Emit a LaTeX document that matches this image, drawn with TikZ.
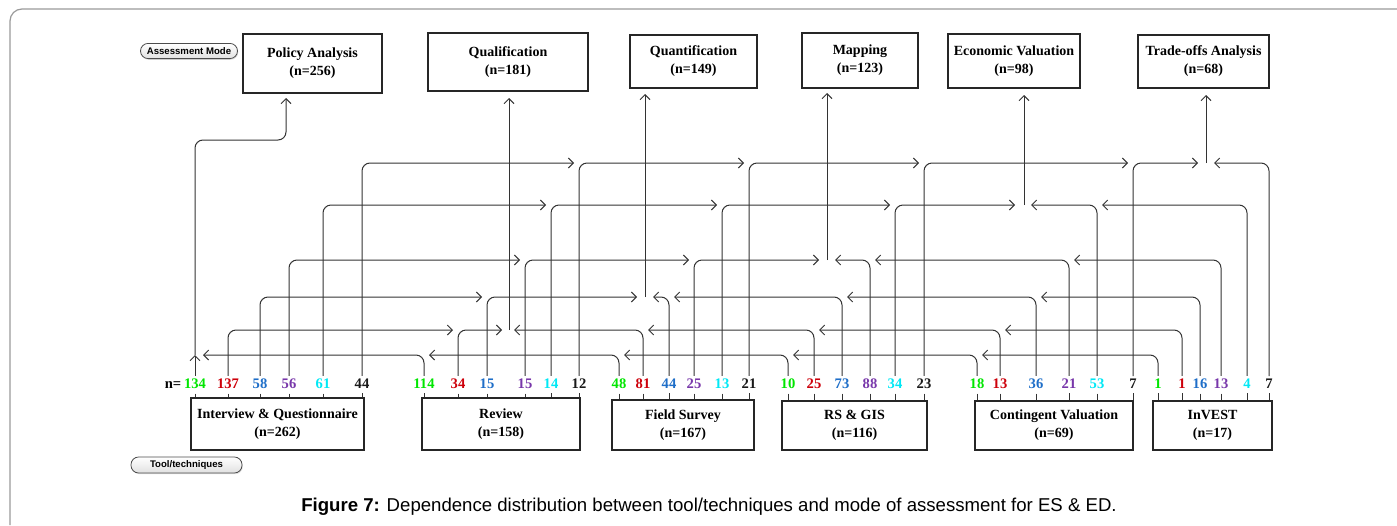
\documentclass[tikz,border=0pt]{standalone}
\usepackage{fontspec}
\setmainfont{Liberation Serif}
\newfontfamily\capfont{Liberation Sans}
\usetikzlibrary{arrows.meta,shadows}
\definecolor{m1}{RGB}{0,230,0}
\definecolor{m2}{RGB}{205,0,10}
\definecolor{m3}{RGB}{30,110,200}
\definecolor{m4}{RGB}{120,55,170}
\definecolor{m5}{RGB}{0,232,245}
\definecolor{m6}{RGB}{25,25,25}
\begin{document}
\begin{tikzpicture}[x=0.5pt,y=-0.5pt,
  box/.style={draw=black!85, line width=0.6pt, inner sep=0pt, align=center,
    font=\fontsize{7}{9}\selectfont\bfseries},
  num/.style={font=\fontsize{7.3}{8}\selectfont\bfseries, inner sep=0pt, anchor=base},
  conn/.style={draw=black!80, line width=0.5pt, rounded corners=4pt},
  arr/.style={-{Straight Barb[length=2.5pt,width=5pt]}},
  tick/.style={draw=black!80, line width=0.5pt},
  pill/.style={draw=black!70, line width=0.4pt, rounded corners=3.8pt,
    top color=white, bottom color=black!12,
    drop shadow={shadow xshift=0.4pt, shadow yshift=-0.6pt, opacity=0.25},
    font=\capfont\fontsize{4.8}{6}\selectfont\bfseries, inner sep=0pt}
]
\useasboundingbox (0,0) rectangle (1397,525);
% frame
\draw[black!40, line width=0.6pt, rounded corners=6pt] (10,525) -- (10,9) -- (1397,9);

% top boxes (assessment modes)
\node[box, minimum width=69.5pt, minimum height=29.5pt] (a1) at (312.5,63.5) {Policy Analysis\\(n=256)};
\node[box, minimum width=80pt, minimum height=29pt] (a2) at (508,62) {Qualification\\(n=181)};
\node[box, minimum width=63.5pt, minimum height=26.5pt] (a3) at (693.5,61.5) {Quantification\\(n=149)};
\node[box, minimum width=58pt, minimum height=27.5pt] (a4) at (860,60.5) {Mapping\\(n=123)};
\node[box, minimum width=66pt, minimum height=27pt] (a5) at (1014,61) {Economic Valuation\\(n=98)};
\node[box, minimum width=65.5pt, minimum height=26.5pt] (a6) at (1203.5,61.5) {Trade-offs Analysis\\(n=68)};

% bottom boxes (tools / techniques)
\node[box, minimum width=86.5pt, minimum height=26pt] (t1) at (277.5,424) {Interview \& Questionnaire\\(n=262)};
\node[box, minimum width=79pt, minimum height=26pt] (t2) at (501,424) {Review\\(n=158)};
\node[box, minimum width=71pt, minimum height=25pt] (t3) at (683,425) {Field Survey\\(n=167)};
\node[box, minimum width=72.5pt, minimum height=24.5pt] (t4) at (854.5,425.5) {RS \& GIS\\(n=116)};
\node[box, minimum width=79pt, minimum height=24.5pt] (t5) at (1054,425.5) {Contingent Valuation\\(n=69)};
\node[box, minimum width=59.5pt, minimum height=24.5pt] (t6) at (1212.5,425.5) {InVEST\\(n=17)};

% labels
\node[pill, minimum width=48.5pt, minimum height=7.6pt] (am) at (189,51) {Assessment Mode};
\node[pill, minimum width=55.5pt, minimum height=8pt] (tt) at (186.5,465) {Tool/techniques};
\node[num, text=black] (neq) at (173,388) {n=};

% numbers, ticks and connectors
\foreach \t/\m/\x/\v/\e in {
  1/1/195/134/0, 1/2/228/137/453, 1/3/260/58/482, 1/4/289/56/520, 1/5/323/61/546, 1/6/362/44/574,
  2/1/424/114/203, 2/2/458/34/502, 2/3/487/15/637, 2/4/525/15/689, 2/5/551/14/717, 2/6/579/12/744,
  3/1/619/48/429, 3/2/643/81/514, 3/3/669/44/653, 3/4/694/25/819, 3/5/722/13/890, 3/6/749/21/919,
  4/1/788/10/624, 4/2/814/25/648, 4/3/842/73/674, 4/4/870/88/835, 4/5/895/34/1015, 4/6/924/23/1128,
  5/1/977/18/793, 5/2/1000/13/819, 5/3/1036/36/847, 5/4/1069/21/875, 5/5/1097/53/1031, 5/6/1133/7/1198,
  6/1/1158/1/982, 6/2/1182/1/1005, 6/3/1200/16/1041, 6/4/1221/13/1074, 6/5/1247/4/1102, 6/6/1269/7/1214}{
  \pgfmathsetmacro\lvl{{355,330,297,260,205,163}[\m-1]}
  \node[num, text=m\m] (n\t\m) at (\x,388) {\v};
  \draw[tick] ([yshift=-2.5pt]n\t\m.south) -- (n\t\m.south |- t\t.north);
  \coordinate (e\t\m) at (\e,\lvl);
  \ifnum\e>0 \draw[conn,arr] ([yshift=1pt]n\t\m.north) |- (e\t\m); \fi
}

% collectors
\coordinate (c1) at (195,355);
\coordinate (c2) at (509,330);
\coordinate (c3) at (645,297);
\coordinate (c4) at (827,260);
\coordinate (c5) at (1024,205);
\coordinate (c6) at (1206,163);
\coordinate (p1) at (195,140);
\coordinate (p2) at (286,140);
\coordinate (in1) at (286,98);
\coordinate (in2) at (509,98);
\coordinate (in3) at (645,94);
\coordinate (in4) at (827,93);
\coordinate (in5) at (1024,95);
\coordinate (in6) at (1206,95);
\draw[conn,arr] ([yshift=1pt]n11.north) -- (c1);
\draw[conn,arr] (c1) -- (p1) -- (p2) -- (in1);
\foreach \k in {2,...,6}{
  \draw[conn,arr] (c\k) -- (in\k);
}

% caption
\node[font=\capfont\fontsize{9.3}{11}\selectfont, inner sep=0pt] (cap) at (709,507)
  {\textbf{Figure 7:} Dependence distribution between tool/techniques and mode of assessment for ES \& ED.};
\end{tikzpicture}
\end{document}
